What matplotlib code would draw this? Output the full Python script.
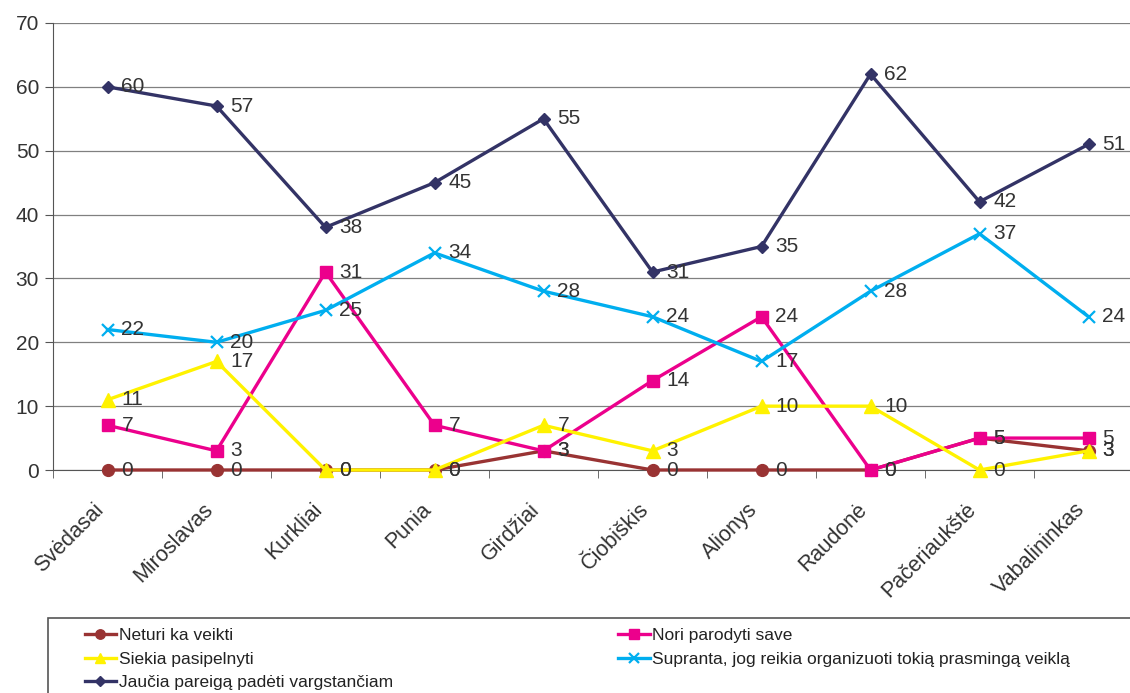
import matplotlib
matplotlib.use("Agg")
import matplotlib.pyplot as plt
from matplotlib.patches import Rectangle

plt.rcParams['font.family'] = ['Liberation Sans', 'DejaVu Sans']

categories = ["Svėdasai", "Miroslavas", "Kurkliai", "Punia", "Girdžiai",
              "Čiobiškis", "Alionys", "Raudonė", "Pačeriaukštė", "Vabalininkas"]
neturi = [0, 0, 0, 0, 3, 0, 0, 0, 5, 3]
nori = [7, 3, 31, 7, 3, 14, 24, 0, 5, 5]
siekia = [11, 17, 0, 0, 7, 3, 10, 10, 0, 3]
supranta = [22, 20, 25, 34, 28, 24, 17, 28, 37, 24]
jaucia = [60, 57, 38, 45, 55, 31, 35, 62, 42, 51]
yticks = [0, 10, 20, 30, 40, 50, 60, 70]

series = [
    ("Neturi ka veikti", neturi, "#993333", "o", 8.5),
    ("Nori parodyti save", nori, "#EC008C", "s", 8.5),
    ("Siekia pasipelnyti", siekia, "#FFF200", "^", 9.5),
    ("Supranta, jog reikia organizuoti tokią prasmingą veiklą", supranta, "#00AEEF", "x", 9),
    ("Jaučia pareigą padėti vargstančiam", jaucia, "#333366", "D", 6.5),
]

W, H = 1130, 693
fig = plt.figure(figsize=(W / 100, H / 100), dpi=100)
ax = fig.add_axes([53 / W, (H - 470) / H, 1090 / W, 447 / H])

x = list(range(len(categories)))
handles = []
for name, vals, col, mk, ms in series:
    h, = ax.plot(x, vals, color=col, marker=mk, markersize=ms, linewidth=2.4,
                 markeredgewidth=1.6 if mk == "x" else 1, label=name, zorder=3,
                 clip_on=False)
    handles.append(h)
    for xi, v in zip(x, vals):
        ax.annotate(str(v), (xi, v), xytext=(10, 0), textcoords="offset points",
                    va="center", ha="left", fontsize=15, color="#333333", zorder=4)

ax.set_xlim(-0.5, len(categories) - 0.5)
ax.set_ylim(0, 70)
ax.set_yticks(yticks)
ax.set_yticklabels([str(t) for t in yticks], fontsize=15, color="#333333")
ax.yaxis.grid(True, color="#808080", linewidth=0.9)
ax.set_axisbelow(True)
ax.set_xticks(x)
ax.set_xticklabels([])
for xi, cat in zip(x, categories):
    ax.annotate(cat, (xi, 0), xytext=(-14, -29), textcoords="offset pixels",
                rotation=45, rotation_mode="anchor", ha="right", va="top",
                fontsize=15.5, color="#333333", annotation_clip=False)
ax.set_xticks([i + 0.5 for i in range(-1, len(categories))], minor=True)
ax.tick_params(axis="x", which="major", length=0)
ax.tick_params(axis="x", which="minor", length=6, color="#555555")
ax.tick_params(axis="y", length=6, color="#555555", pad=4)
for s in ["top", "right"]:
    ax.spines[s].set_visible(False)
ax.spines["left"].set_color("#555555")
ax.spines["bottom"].set_color("#555555")

fig.patches.append(Rectangle((48 / W, -0.05), 1.2, (H - 618) / H + 0.05,
                             transform=fig.transFigure, fill=False,
                             edgecolor="#555555", linewidth=1.2))

order = [0, 2, 4, 1, 3]
leg = fig.legend(handles=[handles[i] for i in order], loc="upper left",
                 bbox_to_anchor=(76 / W, 1 - 619 / H), ncol=2, frameon=False,
                 prop={'size': 12.5},
                 handlelength=1.8, handletextpad=0.15, columnspacing=13.0,
                 labelspacing=0.5, borderpad=0, markerscale=0.8)
for t in leg.get_texts():
    t.set_color("#222222")

fig.savefig("out.png", dpi=100)
